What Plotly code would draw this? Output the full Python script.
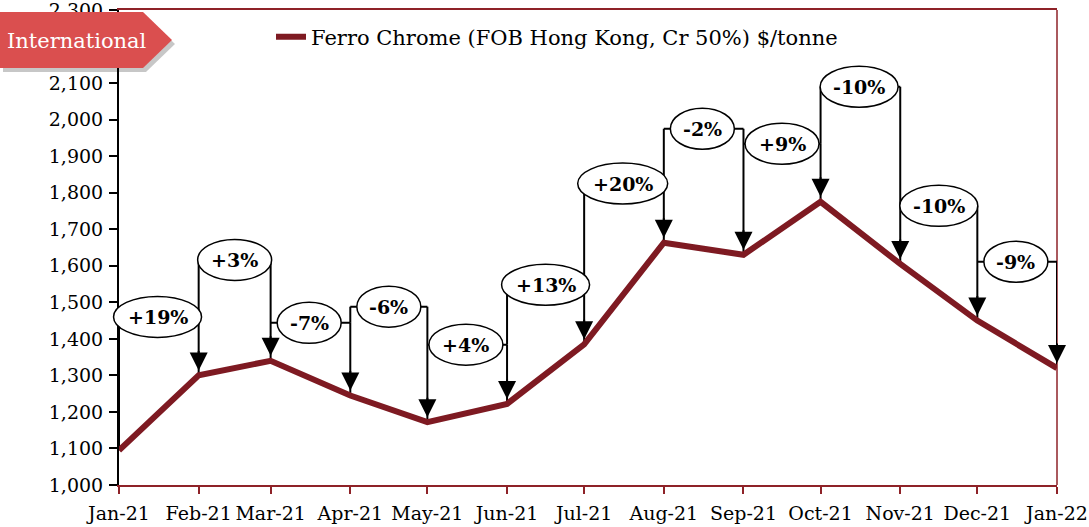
import plotly.graph_objects as go
from datetime import date

# ---------------- data ----------------
months = ["2021-01-01", "2021-02-01", "2021-03-01", "2021-04-01", "2021-05-01",
          "2021-06-01", "2021-07-01", "2021-08-01", "2021-09-01", "2021-10-01",
          "2021-11-01", "2021-12-01", "2022-01-01"]
tick_labels = ["Jan-21", "Feb-21", "Mar-21", "Apr-21", "May-21", "Jun-21", "Jul-21",
               "Aug-21", "Sep-21", "Oct-21", "Nov-21", "Dec-21", "Jan-22"]
prices = [1095, 1300, 1340, 1245, 1172, 1222, 1385, 1663, 1630, 1775, 1605, 1450, 1320]
change_labels = ["+19%", "+3%", "-7%", "-6%", "+4%", "+13%", "+20%", "-2%", "+9%",
                 "-10%", "-10%", "-9%"]
y_ticks = [1000, 1100, 1200, 1300, 1400, 1500, 1600, 1700, 1800, 1900, 2000, 2100, 2200, 2300]
hidden_y_ticks = [2200]  # covered by the "International" tag in the reference
series_name = "Ferro Chrome (FOB Hong Kong, Cr 50%) $/tonne"
tag_text = "International"

# callout label heights (in price units, annotation placement)
callout_levels = [1460, 1616, 1444, 1488, 1384, 1548, 1825, 1975, 1934, 2090, 1764, 1611]

# ---------------- layout constants ----------------
W, H = 1089, 527
ML, MR, MT, MB = 119, 32, 10, 42
PW, PH = W - ML - MR, H - MT - MB
Y0, Y1 = 1000, 2300
FONT = "DejaVu Serif"
LINE_RED = "#7E1A22"
BORDER_RED = "#8E2228"
TAG_RED = "#DA4F4F"

start = date.fromisoformat(months[0])
end = date.fromisoformat(months[-1])
total_days = (end - start).days


def xfrac(d):
    return (d - start).days / total_days


def px(xp):
    return (xp - ML) / PW


def py(yp):
    return (MT + PH - yp) / PH


fig = go.Figure()
fig.add_trace(go.Scatter(x=months, y=prices, mode="lines", name=series_name,
                         line=dict(color=LINE_RED, width=6)))

shapes = []
annotations = []

# right border
shapes.append(dict(type="line", xref="paper", yref="paper", x0=1, x1=1, y0=0, y1=1,
                   line=dict(color=BORDER_RED, width=1.5), layer="below"))

char_w = {"+": 20, "-": 10, "%": 24, "1": 14}
ellipses = []
for i, lab in enumerate(change_labels):
    d0 = date.fromisoformat(months[i])
    d1 = date.fromisoformat(months[i + 1])
    mid = d0 + (d1 - d0) / 2
    lvl = callout_levels[i]
    # left connector
    if i == 0:
        shapes.append(dict(type="line", xref="x", yref="y", x0=months[i], x1=months[i],
                           y0=lvl, y1=prices[i], line=dict(color="black", width=2), layer="below"))
    elif lvl > callout_levels[i - 1]:
        shapes.append(dict(type="line", xref="x", yref="y", x0=months[i], x1=months[i],
                           y0=lvl, y1=callout_levels[i - 1], line=dict(color="black", width=2),
                           layer="below"))
    # horizontal bracket
    shapes.append(dict(type="line", xref="x", yref="y", x0=months[i], x1=months[i + 1],
                       y0=lvl, y1=lvl, line=dict(color="black", width=2), layer="below"))
    # right drop line
    shapes.append(dict(type="line", xref="x", yref="y", x0=months[i + 1], x1=months[i + 1],
                       y0=lvl, y1=prices[i + 1], line=dict(color="black", width=2), layer="below"))
    # arrow head
    annotations.append(dict(x=months[i + 1], y=prices[i + 1], xref="x", yref="y", text="",
                            showarrow=True, ax=0, ay=-26, arrowhead=2, arrowsize=1.8,
                            arrowwidth=2, arrowcolor="black", standoff=5))
    # ellipse
    w = 14 + sum(char_w.get(c, 16) for c in lab)
    ellipses.append(dict(type="circle", xref="x domain", yref="y domain",
                         xsizemode="pixel", ysizemode="pixel",
                         xanchor=xfrac(mid), yanchor=(lvl - Y0) / (Y1 - Y0),
                         x0=-w / 2, x1=w / 2, y0=-20.5, y1=20.5,
                         fillcolor="white", line=dict(color="black", width=1.5),
                         layer="above"))
    annotations.append(dict(x=mid.isoformat(), y=lvl, xref="x", yref="y", text="<b>%s</b>" % lab,
                            showarrow=False, font=dict(family=FONT, size=19, color="black")))

shapes.extend(ellipses)

# International tag with shadow
def tag_path(dx=0, dy=0):
    pts = [(0, 12), (143, 12), (172, 40), (143, 68), (0, 68)]
    s = ""
    for k, (a, b) in enumerate(pts):
        s += ("M" if k == 0 else "L") + "%.5f,%.5f " % (px(a + dx), py(b + dy))
    return s + "Z"

shapes.append(dict(type="path", xref="paper", yref="paper", path=tag_path(3, 4),
                   fillcolor="rgba(0,0,0,0.22)", line=dict(width=0), layer="above"))
shapes.append(dict(type="path", xref="paper", yref="paper", path=tag_path(),
                   fillcolor=TAG_RED, line=dict(width=0), layer="above"))
annotations.append(dict(x=px(77), y=py(41), xref="paper", yref="paper", text=tag_text,
                        showarrow=False, xanchor="center", yanchor="middle",
                        font=dict(family=FONT, size=21, color="white")))

y_text = ["" if v in hidden_y_ticks else f"{v:,}" for v in y_ticks]

fig.update_layout(
    width=W, height=H,
    margin=dict(l=ML, r=MR, t=MT, b=MB, autoexpand=False),
    paper_bgcolor="white", plot_bgcolor="white",
    font=dict(family=FONT, size=19, color="black"),
    showlegend=True,
    legend=dict(x=px(271), y=py(37), xanchor="left", yanchor="middle",
                bgcolor="rgba(0,0,0,0)", font=dict(family=FONT, size=21, color="black")),
    shapes=shapes,
    annotations=annotations,
    xaxis=dict(type="date", range=[months[0], months[-1]], tickvals=months, ticktext=tick_labels,
               ticks="outside", ticklen=7, tickwidth=2, tickcolor=BORDER_RED,
               showline=True, linecolor=BORDER_RED, linewidth=2, mirror=True,
               showgrid=False, zeroline=False, ticklabelstandoff=3, automargin=False,
               ticklabeloverflow="allow",
               tickfont=dict(family=FONT, size=19, color="black")),
    yaxis=dict(range=[Y0, Y1], tickvals=y_ticks, ticktext=y_text,
               ticks="outside", ticklen=8, tickwidth=2, tickcolor="black",
               showline=True, linecolor="black", linewidth=2,
               showgrid=False, zeroline=False, automargin=False, ticklabelstandoff=2,
               ticklabeloverflow="allow",
               tickfont=dict(family=FONT, size=19, color="black")),
)

fig.write_html("out.html", config={"displayModeBar": False},
               post_script="document.body.style.margin='0';")
